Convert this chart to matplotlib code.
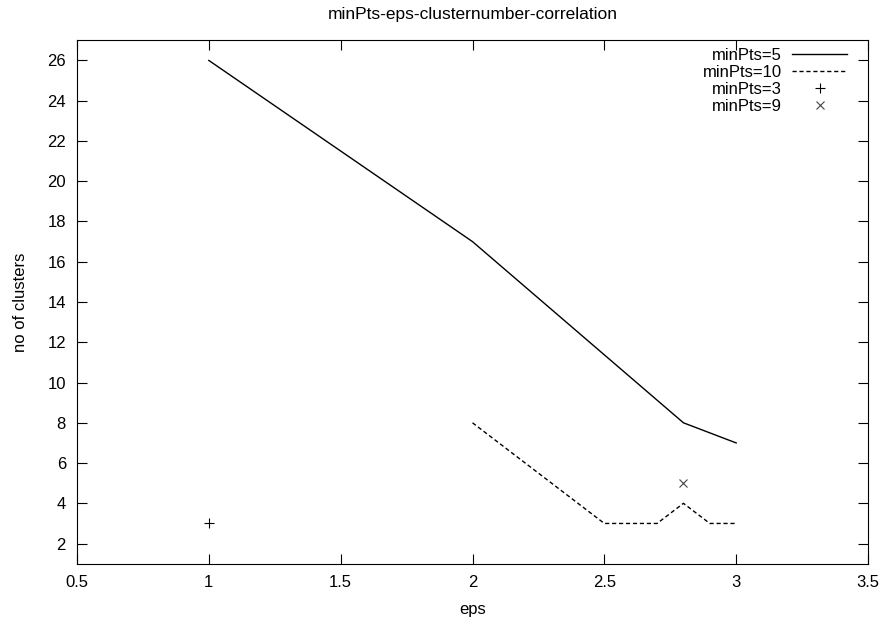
import matplotlib.pyplot as plt
import matplotlib.ticker as mticker

plt.rcParams['font.family'] = ['Liberation Sans', 'DejaVu Sans']
plt.rcParams['font.size'] = 12

# data
eps_5 = [1, 2, 2.8, 3]
clusters_5 = [26, 17, 8, 7]

eps_10 = [2, 2.5, 2.7, 2.8, 2.9, 3]
clusters_10 = [8, 3, 3, 4, 3, 3]

eps_3 = [1]
clusters_3 = [3]

eps_9 = [2.8]
clusters_9 = [5]

fig = plt.figure(figsize=(8.86, 6.22), dpi=100)
ax = fig.add_axes([0.0869, 0.0937, 0.8928, 0.8415])

ax.plot(eps_5, clusters_5, color="black", lw=1, label="minPts=5")
ax.plot(eps_10, clusters_10, color="black", lw=1, ls=(0, (3, 2)), label="minPts=10")
ax.plot(eps_3, clusters_3, ls="none", marker="+", ms=7, mew=0.8, color="black", label="minPts=3")
ax.plot(eps_9, clusters_9, ls="none", marker="x", ms=6, mew=0.8, color="#444444", label="minPts=9")

ax.set_xlim(0.5, 3.5)
ax.set_ylim(1, 27)
ax.set_xticks([0.5, 1, 1.5, 2, 2.5, 3, 3.5])
ax.set_yticks(range(2, 27, 2))
ax.xaxis.set_major_formatter(mticker.FormatStrFormatter("%g"))
ax.tick_params(direction="in", length=7, width=0.8, top=True, right=True, pad=8)

ax.set_title("minPts-eps-clusternumber-correlation", fontsize=12.5, pad=15)
ax.set_xlabel("eps", labelpad=9)
ax.set_ylabel("no of clusters", labelpad=14)

ax.legend(loc="upper right", bbox_to_anchor=(0.9735, 0.985), frameon=False,
          markerfirst=False, handlelength=3.3, labelspacing=0.12,
          borderaxespad=0, borderpad=0, handletextpad=0.6)

fig.savefig("out.png", dpi=100)
